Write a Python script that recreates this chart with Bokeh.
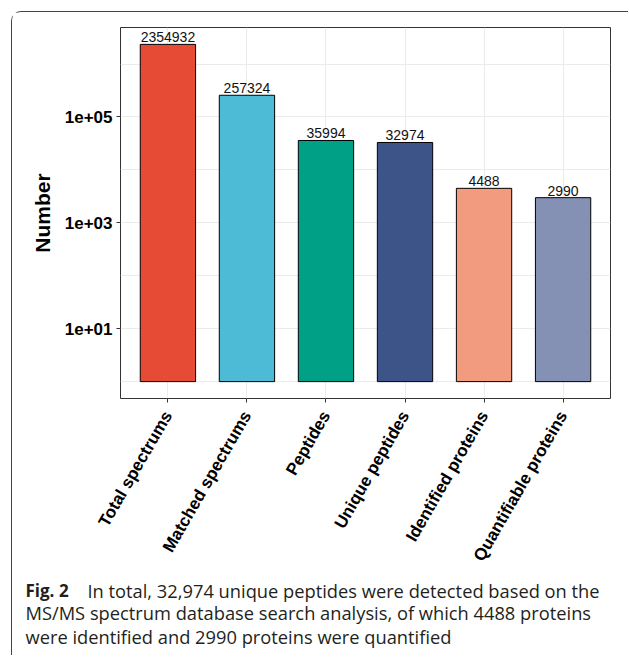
from bokeh.plotting import figure
from bokeh.models import (FactorRange, Range1d, FixedTicker, CustomJSTickFormatter,
                          ColumnDataSource)
from bokeh.embed import file_html
from bokeh.resources import INLINE
from bokeh.core.properties import value
import math

# ---- data ----
categories = ["Total spectrums", "Matched spectrums", "Peptides",
              "Unique peptides", "Identified proteins", "Quantifiable proteins"]
counts = [2354932, 257324, 35994, 32974, 4488, 2990]
bar_colors = ["#E64B35", "#4DBBD5", "#00A087", "#3C5488", "#F39B7F", "#8491B4"]
y_tick_values = [10, 1000, 100000]
y_tick_labels = ["1e+01", "1e+03", "1e+05"]
y_minor_values = [1, 100, 10000, 1000000]
caption_bold = "Fig. 2"
caption_lines = [
    "In total, 32,974 unique peptides were detected based on the",
    "MS/MS spectrum database search analysis, of which 4488 proteins",
    "were identified and 2990 proteins were quantified",
]

W = 617
H1, H2 = 560, 84

src = ColumnDataSource(dict(cat=categories, n=counts, color=bar_colors,
                            lab=[str(c) for c in counts]))

lo = -0.319
hi = math.log10(max(counts)) + 0.319
p = figure(width=W, height=H1, output_backend="svg", toolbar_location=None,
           x_range=FactorRange(factors=categories, range_padding=1/30),
           y_range=Range1d(10 ** lo, 10 ** hi), y_axis_type="log",
           min_border_left=108, min_border_right=19, min_border_top=15,
           min_border_bottom=174,
           margin=(11, 0, 0, 11),
           styles={"border-left": "1px solid #444444",
                   "border-top": "1px solid #444444",
                   "border-top-left-radius": "10px"})

p.vbar(x="cat", top="n", bottom=1, width=0.7, fill_color="color",
       line_color="black", line_width=1, source=src)
p.text(x="cat", y="n", text="lab", source=src, text_align="center",
       text_baseline="bottom", y_offset=-2, text_font=value("Liberation Sans"),
       text_font_size="14px", text_color="#111111")

p.outline_line_color = "#333333"
p.outline_line_width = 1
p.background_fill_color = "white"
p.border_fill_color = "white"

p.yaxis.ticker = FixedTicker(ticks=y_tick_values, minor_ticks=y_minor_values)
p.yaxis.formatter = CustomJSTickFormatter(
    args=dict(vals=y_tick_values, labs=y_tick_labels),
    code="""
for (let i = 0; i < vals.length; i++) {
  if (Math.abs(Math.log10(tick) - Math.log10(vals[i])) < 1e-6) return labs[i];
}
return "";
""")
for ax in (p.xaxis, p.yaxis):
    ax.axis_line_color = None
    ax.major_tick_line_color = "#333333"
    ax.major_tick_out = 4
    ax.major_tick_in = 0
    ax.minor_tick_line_color = None
    ax.major_label_text_font = "Liberation Sans"
    ax.major_label_text_font_style = "bold"
    ax.major_label_text_font_size = "17px"
    ax.major_label_text_color = "#000000"

p.yaxis.major_label_standoff = 4
p.yaxis.axis_label = "Number"
p.yaxis.axis_label_text_font = "Liberation Sans"
p.yaxis.axis_label_text_font_style = "bold"
p.yaxis.axis_label_text_font_size = "21px"
p.yaxis.axis_label_text_color = "#000000"
p.yaxis.axis_label_standoff = 8

p.xaxis.major_label_orientation = math.pi / 3
p.xaxis.major_label_standoff = 10

p.xgrid.grid_line_color = "#EBEBEB"
p.ygrid.grid_line_color = "#EBEBEB"
p.ygrid.minor_grid_line_color = "#EBEBEB"

# ---- caption panel (separate root so its frame is not aligned to the chart) ----
q = figure(width=W, height=H2, output_backend="svg", toolbar_location=None,
           x_range=Range1d(0, W), y_range=Range1d(H2, 0),
           x_axis_location=None, y_axis_location=None,
           min_border=0, min_border_left=0, min_border_right=0,
           min_border_top=0, min_border_bottom=0,
           margin=(0, 0, 0, 11),
           styles={"border-left": "1px solid #444444"})
q.outline_line_color = None
q.grid.visible = False
q.background_fill_color = "white"
q.border_fill_color = "white"

q.text(x=[13], y=[18.7], text=[caption_bold], text_font=value("Open Sans"),
       text_font_style="bold", text_font_size="17px", text_color="#231F20",
       text_baseline="alphabetic")
q.text(x=[75, 13, 13], y=[18.7, 41.0, 64.7], text=caption_lines,
       text_font=value("Open Sans"), text_font_size="18.3px", text_color="#231F20",
       text_baseline="alphabetic")

open("out.html", "w").write(file_html([p, q], INLINE))
